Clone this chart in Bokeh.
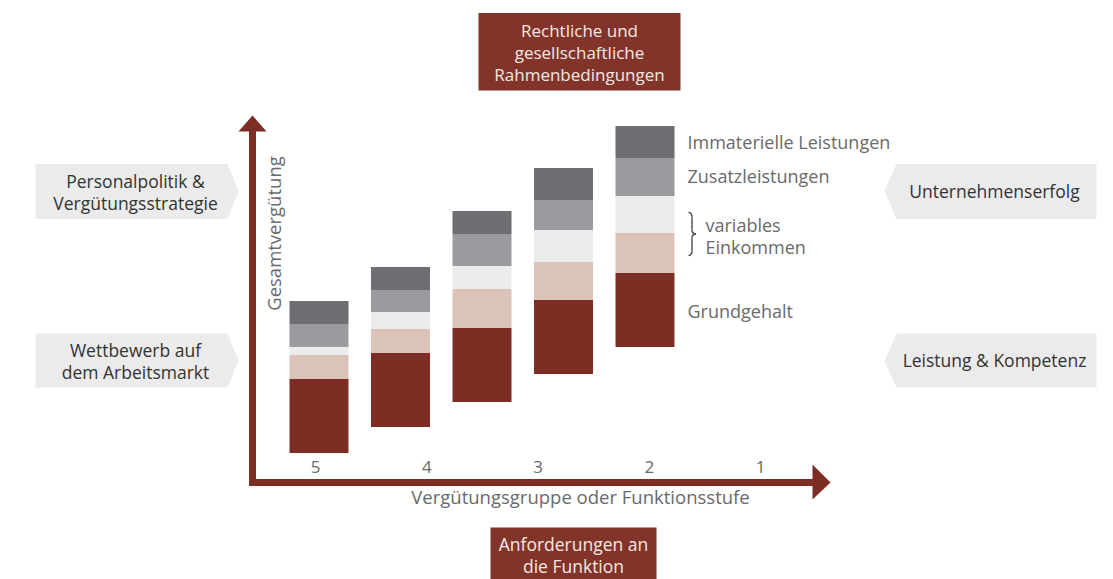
from bokeh.plotting import figure
from bokeh.models import Range1d
from bokeh.core.properties import value
from bokeh.embed import file_html
from bokeh.resources import INLINE

# ---- data ----
groups = ["5", "4", "3", "2", "1"]
base = [29, 55, 80, 108, 135]          # floating start of each bar
grundgehalt = [74, 74, 74, 74, 74]
variabel_a = [24, 24, 39, 38, 40]      # beige
variabel_b = [8, 17, 23, 32, 37]       # light grey
zusatz = [23, 22, 32, 30, 38]
immateriell = [23, 23, 23, 32, 32]
segments = [grundgehalt, variabel_a, variabel_b, zusatz, immateriell]
seg_colors = ["#7c2e25", "#dcc3b7", "#ececec", "#9b9a9e", "#6f6e72"]
legend_labels = ["Immaterielle Leistungen", "Zusatzleistungen", "variables", "Einkommen", "Grundgehalt"]
left_boxes = [["Personalpolitik &", "Vergütungsstrategie"], ["Wettbewerb auf", "dem Arbeitsmarkt"]]
right_boxes = ["Unternehmenserfolg", "Leistung & Kompetenz"]
top_box = ["Rechtliche und", "gesellschaftliche", "Rahmenbedingungen"]
bottom_box = ["Anforderungen an", "die Funktion"]
x_title = "Vergütungsgruppe oder Funktionsstufe"
y_title = "Gesamtvergütung"

FONT = value("Open Sans")
RED = "#7c2e25"
BOXRED = "#83342a"
GREY_TXT = "#6a6a6a"
DARK_TXT = "#333333"
BOXFILL = "#ebebeb"

W, H = 1113, 579
AX = 481.5  # screen y of the horizontal axis


def sy(y):
    return AX - y


p = figure(width=W, height=H, x_range=Range1d(0, W), y_range=Range1d(sy(H), sy(0)),
           toolbar_location=None, output_backend="svg", min_border=0,
           x_axis_location=None, y_axis_location=None, outline_line_color=None,
           background_fill_color="white", border_fill_color="white")
p.grid.visible = False

# ---- stacked floating bars ----
bar_x0, bar_step, bar_w = 318.5, 81.5, 59
xs = [bar_x0 + i * bar_step for i in range(len(groups))]
bottoms = list(base)
for seg, col in zip(segments, seg_colors):
    tops = [b + s for b, s in zip(bottoms, seg)]
    p.vbar(x=xs, bottom=bottoms, top=tops, width=bar_w, fill_color=col, line_color=None)
    bottoms = tops

# ---- axes arrows ----
p.quad(left=[248.5], right=[255.5], bottom=[sy(485.5)], top=[sy(130)], fill_color=RED, line_color=None)
p.quad(left=[248.5], right=[813], bottom=[sy(485.5)], top=[sy(478.5)], fill_color=RED, line_color=None)
p.patches(xs=[[238, 252, 266], [812, 830, 812]],
          ys=[[sy(131), sy(115), sy(131)], [sy(464), sy(482), sy(499)]],
          fill_color=RED, line_color=None)

# group labels
lab_x0, lab_step = 315, 111.3
p.text(x=[lab_x0 + i * lab_step for i in range(len(groups))], y=[sy(466)] * len(groups), text=groups,
       text_font=FONT, text_font_size="17px", text_color=GREY_TXT, text_align="center",
       text_baseline="middle")
p.text(x=[580], y=[sy(496)], text=[x_title], text_font=FONT, text_font_size="18.5px",
       text_color=GREY_TXT, text_align="center", text_baseline="middle")
p.text(x=[273], y=[sy(233)], text=[y_title], angle=1.5708, text_font=FONT, text_font_size="18.5px",
       text_color=GREY_TXT, text_align="center", text_baseline="middle")

# ---- legend labels ----
p.text(x=[687, 687, 705, 705, 687], y=[sy(141), sy(175.5), sy(224), sy(246.5), sy(310)],
       text=legend_labels, text_font=FONT, text_font_size="18px", text_color=GREY_TXT,
       text_align="left", text_baseline="middle")
# brace
x0, x1, x2 = 688, 691.5, 695.5
yt, ym, yb = 212, 233.5, 255
p.quadratic(x0=[x0, x1, x2, x1], y0=[sy(yt), sy(229), sy(ym), sy(250)],
            x1=[x1, x2, x1, x0], y1=[sy(217), sy(ym), sy(238), sy(yb)],
            cx=[x1, x1, x1, x1], cy=[sy(yt), sy(ym), sy(ym), sy(yb)],
            line_color="#555555", line_width=1.5)
p.segment(x0=[x1, x1], y0=[sy(217), sy(238)], x1=[x1, x1], y1=[sy(229), sy(250)],
          line_color="#555555", line_width=1.5)

# ---- top / bottom boxes ----
p.quad(left=[478], right=[680], top=[sy(12.5)], bottom=[sy(90)], fill_color=BOXRED, line_color=None)
p.text(x=[579] * 3, y=[sy(30), sy(52), sy(74)], text=top_box, text_font=FONT, text_font_size="17px",
       text_color="#f3e8e3", text_align="center", text_baseline="middle")
p.quad(left=[490], right=[656], top=[sy(527)], bottom=[sy(600)], fill_color=BOXRED, line_color=None)
p.text(x=[573] * 2, y=[sy(543.5), sy(565)], text=bottom_box, text_font=FONT, text_font_size="17.5px",
       text_color="#f3e8e3", text_align="center", text_baseline="middle")

# ---- side boxes ----
rows = [(163.5, 218.5), (333, 387)]
lxs, lys, rxs, rys = [], [], [], []
for (t, b) in rows:
    m = (t + b) / 2
    lxs.append([35, 227, 238, 227, 35])
    lys.append([sy(t), sy(t), sy(m), sy(b), sy(b)])
    rxs.append([1096, 896, 884, 896, 1096])
    rys.append([sy(t), sy(t), sy(m), sy(b), sy(b)])
p.patches(xs=lxs + rxs, ys=lys + rys, fill_color=BOXFILL, line_color=None)

for (t, b), lines in zip(rows, left_boxes):
    m = (t + b) / 2
    p.text(x=[135, 135], y=[sy(m - 10.5), sy(m + 11)], text=lines, text_font=FONT,
           text_font_size="17.5px", text_color=DARK_TXT, text_align="center", text_baseline="middle")
for (t, b), line in zip(rows, right_boxes):
    m = (t + b) / 2
    p.text(x=[994], y=[sy(m - 1)], text=[line], text_font=FONT,
           text_font_size="17.5px", text_color=DARK_TXT, text_align="center", text_baseline="middle")

open("out.html", "w").write(file_html(p, INLINE))
